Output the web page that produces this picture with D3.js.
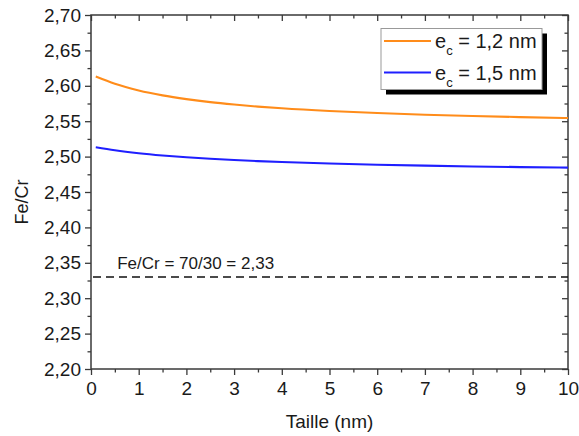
<!DOCTYPE html>
<html>
<head>
<meta charset="utf-8">
<script src="https://cdn.jsdelivr.net/npm/d3@7"></script>
<style>
  html, body { margin: 0; padding: 0; background: #fff; }
  svg { display: block; font-family: "Liberation Sans", Arial, sans-serif; }
</style>
</head>
<body>
<svg id="chart" width="579" height="436"></svg>
<script>
// ---- data ----
const xValues = [0.1, 0.5, 1, 1.5, 2, 2.5, 3, 3.5, 4, 5, 6, 7, 8, 9, 10];
const seriesA = [2.613, 2.6028, 2.5934, 2.5865, 2.5812, 2.5769, 2.5735, 2.5706, 2.5682, 2.5644, 2.5615, 2.5592, 2.5573, 2.5558, 2.5545]; // e_c = 1,2 nm
const seriesB = [2.5131, 2.5089, 2.5048, 2.5016, 2.4990, 2.4969, 2.4951, 2.4936, 2.4923, 2.4902, 2.4885, 2.4872, 2.4861, 2.4852, 2.4844]; // e_c = 1,5 nm
const refValue = 2.33;
const refLabel = "Fe/Cr = 70/30 = 2,33";
const legendLabels = ["1,2 nm", "1,5 nm"];
const xTicks = [0, 1, 2, 3, 4, 5, 6, 7, 8, 9, 10];
const xTickLabels = ["0", "1", "2", "3", "4", "5", "6", "7", "8", "9", "10"];
const yTicks = [2.20, 2.25, 2.30, 2.35, 2.40, 2.45, 2.50, 2.55, 2.60, 2.65, 2.70];
const yTickLabels = ["2,20", "2,25", "2,30", "2,35", "2,40", "2,45", "2,50", "2,55", "2,60", "2,65", "2,70"];
const xMinor = [0.5, 1.5, 2.5, 3.5, 4.5, 5.5, 6.5, 7.5, 8.5, 9.5];
const yMinor = [2.225, 2.275, 2.325, 2.375, 2.425, 2.475, 2.525, 2.575, 2.625, 2.675];

// ---- layout ----
const svg = d3.select("#chart");
const L = 91, R = 568, T = 15, B = 369;
const x = d3.scaleLinear().domain([0, 10]).range([L, R]);
const y = d3.scaleLinear().domain([2.20, 2.70]).range([B, T]);
const axisColor = "#3a3a3a";
const fontSize = 19;

function styleAxis(g) {
  g.select(".domain").remove();
  g.selectAll("line").attr("stroke", axisColor).attr("stroke-width", 1.3);
  g.selectAll("text").attr("fill", "#1a1a1a").style("font-size", fontSize + "px")
    .style("font-family", '"Liberation Sans", Arial, sans-serif');
}

// major ticks
svg.append("g").attr("transform", `translate(0,${B})`)
  .call(d3.axisBottom(x).tickValues(xTicks).tickFormat((d, i) => xTickLabels[i]).tickSize(6).tickPadding(7))
  .call(styleAxis);
svg.append("g").attr("transform", `translate(${L},0)`)
  .call(d3.axisLeft(y).tickValues(yTicks).tickFormat((d, i) => yTickLabels[i]).tickSize(6).tickPadding(4))
  .call(styleAxis);
svg.append("g").attr("transform", `translate(0,${T})`)
  .call(d3.axisTop(x).tickValues(xTicks).tickFormat("").tickSize(-6))
  .call(styleAxis);
svg.append("g").attr("transform", `translate(${R},0)`)
  .call(d3.axisRight(y).tickValues(yTicks).tickFormat("").tickSize(-6))
  .call(styleAxis);
// minor ticks
svg.append("g").attr("transform", `translate(0,${B})`)
  .call(d3.axisBottom(x).tickValues(xMinor).tickFormat("").tickSize(3.5)).call(styleAxis);
svg.append("g").attr("transform", `translate(${L},0)`)
  .call(d3.axisLeft(y).tickValues(yMinor).tickFormat("").tickSize(3.5)).call(styleAxis);
svg.append("g").attr("transform", `translate(0,${T})`)
  .call(d3.axisTop(x).tickValues(xMinor).tickFormat("").tickSize(-3.5)).call(styleAxis);
svg.append("g").attr("transform", `translate(${R},0)`)
  .call(d3.axisRight(y).tickValues(yMinor).tickFormat("").tickSize(-3.5)).call(styleAxis);

// frame
svg.append("rect").attr("x", L).attr("y", T).attr("width", R - L).attr("height", B - T)
  .attr("fill", "none").attr("stroke", axisColor).attr("stroke-width", 1.5);

// reference dashed line
svg.append("line").attr("x1", x(0) + 2).attr("x2", x(10)).attr("y1", y(refValue)).attr("y2", y(refValue))
  .attr("stroke", "#111").attr("stroke-width", 1.6).attr("stroke-dasharray", "8,5");
svg.append("text").attr("x", x(0.55)).attr("y", y(refValue) - 8)
  .style("font-size", "17px").attr("fill", "#1a1a1a").text(refLabel);

// curves
const line = d3.line().x((d, i) => x(xValues[i])).y(d => y(d)).curve(d3.curveMonotoneX);
svg.append("path").datum(seriesA).attr("d", line).attr("fill", "none")
  .attr("stroke", "#ff8c1a").attr("stroke-width", 2.1);
svg.append("path").datum(seriesB).attr("d", line).attr("fill", "none")
  .attr("stroke", "#1f1fff").attr("stroke-width", 2.1);

// axis titles
svg.append("text").attr("x", x(5)).attr("y", 428).attr("text-anchor", "middle")
  .style("font-size", "19px").attr("fill", "#1a1a1a").text("Taille (nm)");
svg.append("text").attr("transform", `translate(28,${(T + B) / 2 + 10}) rotate(-90)`).attr("text-anchor", "middle")
  .style("font-size", "18px").attr("fill", "#1a1a1a").text("Fe/Cr");

// legend
const lg = svg.append("g");
const lx = 381, ly = 28.5, lw = 161, lh = 61;
lg.append("rect").attr("x", lx + 5).attr("y", ly + 5).attr("width", lw).attr("height", lh).attr("fill", "#000");
lg.append("rect").attr("x", lx).attr("y", ly).attr("width", lw).attr("height", lh)
  .attr("fill", "#fff").attr("stroke", "#999").attr("stroke-width", 1);
const legendColors = ["#ff8c1a", "#1f1fff"];
legendLabels.forEach((lab, i) => {
  const yy = ly + 12.5 + i * 31.5;
  lg.append("line").attr("x1", lx + 3).attr("x2", lx + 50).attr("y1", yy).attr("y2", yy)
    .attr("stroke", legendColors[i]).attr("stroke-width", 2);
  const t = lg.append("text").attr("x", lx + 54).attr("y", yy + 7).style("font-size", "20px").attr("fill", "#1a1a1a");
  t.append("tspan").text("e");
  t.append("tspan").attr("dy", 7).style("font-size", "13px").text("c");
  t.append("tspan").attr("dy", -7).text(" = " + lab);
});
</script>
</body>
</html>
